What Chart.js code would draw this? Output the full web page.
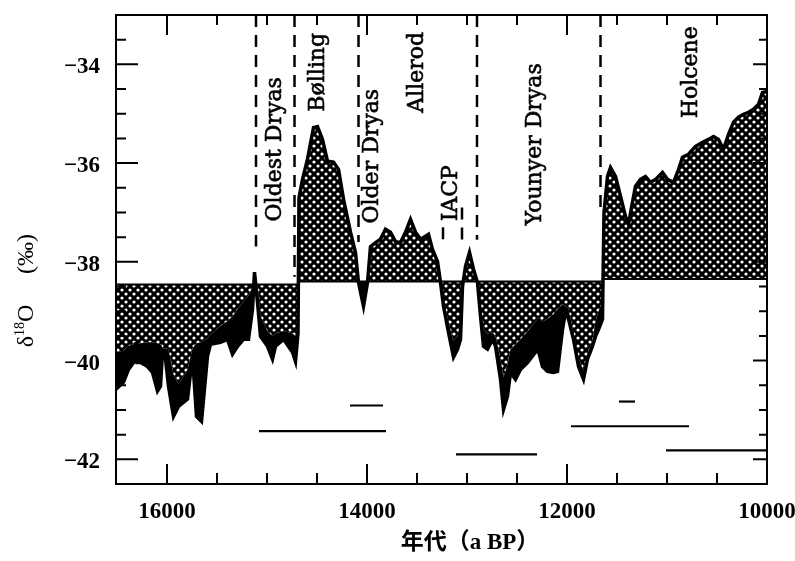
<!DOCTYPE html>
<html>
<head>
<meta charset="utf-8">
<title>δ18O 记录</title>
<script src="https://cdn.jsdelivr.net/npm/chart.js@4.4.1/dist/chart.umd.min.js"></script>
<style>
  body { margin: 0; background: #fff; }
  canvas { display: block; }
</style>
</head>
<body>
<canvas id="chart" width="795" height="561"></canvas>
<script>
// ages (a BP), read left to right from the figure
const years = [
  16510, 16435, 16385, 16335, 16315, 16300, 16265, 16195, 16145, 16095, 16065, 16045, 16015, 15985,
  15935, 15885, 15795, 15745, 15705, 15655, 15595, 15565, 15465, 15395, 15345, 15295, 15235, 15185,
  15145, 15125, 15095, 15065, 14995, 14945, 14915, 14835, 14745, 14715, 14690,
  14680, 14645, 14595, 14535, 14495, 14445, 14395, 14335, 14285, 14235, 14165, 14115, 14085, 14035,
  13995, 13965, 13915, 13865, 13815, 13765, 13715, 13665, 13615, 13565, 13515, 13465, 13415, 13385,
  13345, 13295, 13265,
  13235, 13185, 13145, 13135, 13095, 13065, 13045, 13015, 12975, 12935, 12895, 12865, 12835, 12795,
  12745, 12715, 12665, 12635, 12595, 12565, 12515, 12465, 12395, 12315, 12285, 12245, 12195, 12135,
  12095, 12045, 12015, 11985, 11935, 11885, 11835, 11795, 11745, 11715, 11685, 11645, 11640,
  11630, 11595, 11565, 11515, 11465, 11415, 11385, 11345, 11315, 11265, 11215, 11165, 11115, 11045,
  10995, 10935, 10885, 10845, 10785, 10715, 10645, 10585, 10535, 10485, 10435, 10385, 10335, 10285,
  10235, 10185, 10135, 10085, 10045, 10000
];
// δ18O (‰), outer edge of the record
const d18O = [
  -40.58, -40.44, -40.18, -40.04, -39.63, -40.04, -40.04, -40.12, -40.24, -40.62, -40.52, -39.83, -39.97, -40.52,
  -41.13, -40.93, -40.78, -39.91, -41.13, -41.23, -39.91, -39.67, -39.63, -39.57, -39.87, -39.71, -39.57, -39.57,
  -38.96, -38.21, -38.82, -39.51, -39.71, -39.97, -39.71, -39.57, -39.83, -40.02, -39.45,
  -36.70, -36.33, -35.92, -35.28, -35.26, -35.52, -35.96, -35.98, -36.13, -36.73, -37.40, -37.81, -38.42, -38.90,
  -38.42, -37.69, -37.61, -37.54, -37.34, -37.40, -37.59, -37.61, -37.40, -37.14, -37.40, -37.54, -37.48, -37.44,
  -37.75, -37.99, -38.42,
  -38.90, -39.43, -39.83, -39.93, -39.77, -39.57, -38.50, -38.09, -37.81, -38.15, -38.42, -39.10, -39.71, -39.77,
  -39.57, -39.71, -40.38, -40.99, -40.72, -40.24, -40.38, -40.18, -40.04, -39.83, -39.81, -40.12, -40.22, -40.24,
  -40.22, -39.37, -39.02, -39.16, -39.57, -40.12, -40.38, -39.97, -39.71, -39.51, -39.37, -39.16, -38.40,
  -37.00, -36.27, -36.09, -36.27, -36.67, -37.08, -37.24, -36.79, -36.47, -36.33, -36.27, -36.39, -36.33, -36.19,
  -36.33, -36.39, -36.13, -35.88, -35.82, -35.66, -35.58, -35.52, -35.46, -35.52, -35.72, -35.42, -35.17, -35.07,
  -35.01, -34.97, -34.91, -34.81, -34.57, -34.55
];
// where the cross-hatch stops and the solid black starts (null = same as d18O)
const hatchEdge = [
  -39.83, -39.80, -39.70, -39.67, -39.63, -39.67, -39.65, -39.63, -39.63, -39.65, -39.67, -39.75, -39.75, -39.77,
  -40.28, -40.48, -40.18, -39.75, -39.65, -39.63, -39.55, -39.47, -39.30, -39.20, -39.10, -38.96, -38.80, -38.68,
  -38.50, -38.46, -38.46, -39.10, -39.40, -39.50, -39.45, -39.40, -39.45, -39.50, -39.40,
  null, null, null, null, null, null, null, null, null, null, null, null, -38.40, -38.40,
  -38.40, null, null, null, null, null, null, null, null, null, null, null, null, null,
  null, null, -38.40,
  -38.80, -39.20, -39.55, -39.60, -39.50, -39.20, -38.45, null, null, null, -38.40, -38.90, -39.37, -39.45,
  -39.43, -39.50, -39.97, -40.34, -40.08, -39.77, -39.67, -39.57, -39.41, -39.21, -39.12, -39.21, -39.16, -39.06,
  -38.96, -38.86, -38.90, -38.95, -39.45, -39.95, -40.20, -39.85, -39.60, -39.20, -39.00, -38.80, -38.40,
  null, null, null, null, null, null, null, null, null, null, null, null, null, null,
  null, null, null, null, null, null, null, null, null, null, null, null, null, null,
  null, null, null, null, null, null
];

// reference level the shading is drawn against
const refYears = [16510, 14685, 14685, 11640, 11640, 10000];
const refLevel = [-38.46, -38.46, -38.40, -38.40, -38.35, -38.35];

// dashed period boundaries
const boundaryYears = [15110, 14725, 14085, 13240, 13050, 12900, 11665];
const boundaryTop = [-33, -33, -33, -37.3, -36.9, -33, -33];
const boundaryBottom = [-37.69, -38.3, -37.6, -37.6, -37.6, -37.55, -37.0];

const periodNames = ['Oldest Dryas', 'Bølling', 'Older Dryas', 'Allerod', 'IACP', 'Younyer Dryas', 'Holcene'];
const periodYears = [14920, 14490, 13945, 13500, 13160, 12320, 10760];
const periodLevels = [-35.72, -34.16, -35.86, -34.16, -36.61, -35.62, -34.16];

// short horizontal bars in the lower part
const barStart = [14170, 15080, 13110, 11480, 11960, 11010];
const barEnd = [13840, 13810, 12300, 11320, 10780, 10000];
const barLevel = [-40.91, -41.43, -41.90, -40.83, -41.33, -41.82];

const xTickLabels = [16000, 14000, 12000, 10000];
const yTickLabels = [-42, -40, -38, -36, -34];

function makeHatch() {
  const c = document.createElement('canvas');
  c.width = 8; c.height = 8;
  const g = c.getContext('2d');
  g.fillStyle = '#000';
  g.fillRect(0, 0, 8, 8);
  g.fillStyle = '#fff';
  [[2, 2], [6, 6]].forEach(([px, py]) => {
    g.beginPath(); g.arc(px, py, 1.6, 0, Math.PI * 2); g.fill();
  });
  return g.createPattern(c, 'repeat');
}

// points in ascending x for the filler
const pts = (xs, ys) => xs.map((x, i) => ({x, y: ys[i]})).reverse();
const edge = hatchEdge.map((v, i) => v === null ? d18O[i] : v);

const tickFont = {family: '"Liberation Serif", serif', size: 23, weight: 'bold'};

const frame = {
  id: 'frame',
  afterDatasetsDraw(chart) {
    const {ctx, chartArea: a, scales: {x, y}} = chart;
    ctx.save();
    ctx.strokeStyle = '#000';
    ctx.lineWidth = 2;
    ctx.strokeRect(a.left, a.top, a.right - a.left, a.bottom - a.top);
    ctx.beginPath();
    for (let v = 10500; v <= 16000; v += 500) {
      const px = x.getPixelForValue(v);
      const big = v % 2000 === 0;
      ctx.moveTo(px, a.bottom); ctx.lineTo(px, a.bottom - (big ? 20 : 11));
      ctx.moveTo(px, a.top); ctx.lineTo(px, a.top + (big ? 20 : 10));
    }
    for (let v = -42; v <= -33.5; v += 0.5) {
      const py = y.getPixelForValue(v);
      const big = v % 2 === 0;
      ctx.moveTo(a.left, py); ctx.lineTo(a.left + (big ? 22 : 10), py);
      ctx.moveTo(a.right, py); ctx.lineTo(a.right - (big ? 14 : 8), py);
    }
    ctx.stroke();

    ctx.fillStyle = '#000';
    ctx.font = '22px "DejaVu Serif"';
    ctx.textAlign = 'center';
    ctx.textBaseline = 'middle';
    ctx.lineWidth = 0.6;
    periodNames.forEach((t, i) => {
      ctx.save();
      ctx.translate(x.getPixelForValue(periodYears[i]), y.getPixelForValue(periodLevels[i]));
      ctx.rotate(-Math.PI / 2);
      ctx.fillText(t, 0, 0);
      ctx.strokeText(t, 0, 0);
      ctx.restore();
    });

    // x title
    ctx.font = 'bold 23px "Liberation Serif", "Noto Sans CJK SC"';
    ctx.fillText('年代（a BP）', 470, 543);

    // y title, rotated
    ctx.save();
    ctx.translate(33, 0);
    ctx.rotate(-Math.PI / 2);
    ctx.textAlign = 'left';
    ctx.textBaseline = 'alphabetic';
    const big = '24px "Liberation Serif"', small = '14px "Liberation Serif"';
    ctx.font = big; const wd = ctx.measureText('δ').width, wo = ctx.measureText('O').width;
    ctx.font = small; const ws = ctx.measureText('18').width;
    let sx = -326 - (wd + ws + wo) / 2;
    ctx.font = big; ctx.fillText('δ', sx, 0); sx += wd;
    ctx.font = small; ctx.fillText('18', sx, -9); sx += ws;
    ctx.font = big; ctx.fillText('O', sx, 0);
    ctx.textAlign = 'center';
    ctx.fillText('(‰)', -254, 0);
    ctx.restore();

    ctx.restore();
  }
};

const datasets = [
  {label: 'ref', data: pts(refYears, refLevel), borderColor: '#000', borderWidth: 2,
   pointRadius: 0, fill: false, order: 0},
  {label: 'hatch', data: pts(years, edge), borderWidth: 0, borderColor: 'rgba(0,0,0,0)',
   pointRadius: 0, fill: 0, backgroundColor: makeHatch(), order: 2},
  {label: 'δ18O', data: pts(years, d18O), borderColor: '#000', borderWidth: 3.5,
   pointRadius: 0, fill: 1, backgroundColor: '#000', order: 1}
];
boundaryYears.forEach((yr, i) => datasets.push({
  data: [{x: yr, y: boundaryTop[i]}, {x: yr, y: boundaryBottom[i]}],
  borderColor: '#000', borderWidth: 2.5, borderDash: [12, 8], pointRadius: 0, fill: false, order: 3
}));
barStart.forEach((x0, i) => datasets.push({
  data: [{x: barEnd[i], y: barLevel[i]}, {x: x0, y: barLevel[i]}],
  borderColor: '#000', borderWidth: 2.2, pointRadius: 0, fill: false, order: 3
}));

new Chart(document.getElementById('chart'), {
  type: 'line',
  data: {datasets},
  options: {
    responsive: false,
    animation: false,
    layout: {padding: {left: 10, right: 28, top: 15, bottom: 0}},
    elements: {line: {tension: 0}},
    plugins: {
      legend: {display: false},
      tooltip: {enabled: false},
      filler: {drawTime: 'beforeDatasetsDraw'}
    },
    scales: {
      x: {
        type: 'linear', reverse: true, min: 10000, max: 16510,
        grid: {display: false, drawTicks: false},
        border: {display: false},
        ticks: {font: tickFont, color: '#000', padding: 14, maxRotation: 0, callback: v => String(v)},
        afterBuildTicks: s => { s.ticks = xTickLabels.map(v => ({value: v})); },
        afterFit: s => { s.height = 77; s.paddingLeft = 0; s.paddingRight = 0; }
      },
      y: {
        type: 'linear', min: -42.5, max: -33,
        grid: {display: false, drawTicks: false},
        border: {display: false},
        ticks: {font: tickFont, color: '#000', padding: 16, labelOffset: 3, callback: v => '−' + Math.abs(v)},
        afterBuildTicks: s => { s.ticks = yTickLabels.map(v => ({value: v})); },
        afterFit: s => { s.width = 106; s.paddingTop = 0; s.paddingBottom = 0; }
      }
    }
  },
  plugins: [frame]
});
</script>
</body>
</html>
